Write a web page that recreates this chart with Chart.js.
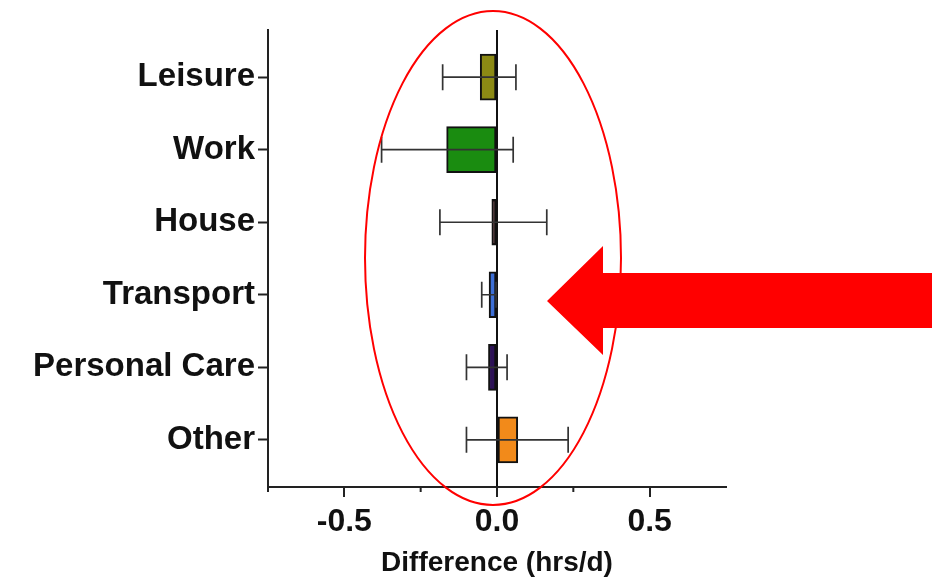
<!DOCTYPE html>
<html>
<head>
<meta charset="utf-8">
<script src="https://cdn.jsdelivr.net/npm/chart.js@4"></script>
<style>
  html, body { margin: 0; padding: 0; background: #ffffff; }
  #wrap { width: 935px; height: 582px; position: relative; }
</style>
</head>
<body>
<div id="wrap"><canvas id="c" width="935" height="582"></canvas></div>
<script>
// ---- data ----
const categories = ["Leisure", "Work", "House", "Transport", "Personal Care", "Other"];
const meanDiff   = [-0.055, -0.165, -0.017, -0.026, -0.028, 0.068];
const ciLower    = [-0.178, -0.378, -0.187, -0.050, -0.100, -0.100];
const ciUpper    = [ 0.062,  0.053,  0.163, -0.003,  0.033,  0.233];
const barColors  = ["#8c8a14", "#1a8c10", "#3c1418", "#3d6fd6", "#2d1257", "#f28a1a"];
const xTickValues = [-0.75, -0.5, -0.25, 0, 0.25, 0.5, 0.75];
const xTickLabels = ["", "-0.5", "", "0.0", "", "0.5", ""];
const xTitle = "Difference (hrs/d)";

const FONT = "'Liberation Sans', Arial, Helvetica, sans-serif";
const isMajor = v => Math.abs(v) < 1e-9 || Math.abs(Math.abs(v) - 0.5) < 1e-9;

const errorBars = {
  id: 'errorBars',
  afterDatasetsDraw(chart) {
    const ctx = chart.ctx, xs = chart.scales.x, ys = chart.scales.y;
    ctx.save();
    ctx.strokeStyle = '#333333';
    ctx.lineWidth = 1.7;
    categories.forEach((c, i) => {
      const y = ys.getPixelForValue(i);
      const x1 = xs.getPixelForValue(ciLower[i]);
      const x2 = xs.getPixelForValue(ciUpper[i]);
      ctx.beginPath();
      ctx.moveTo(x1, y); ctx.lineTo(x2, y);
      ctx.moveTo(x1, y - 13); ctx.lineTo(x1, y + 13);
      ctx.moveTo(x2, y - 13); ctx.lineTo(x2, y + 13);
      ctx.stroke();
    });
    ctx.restore();
  }
};

const minorTicks = {
  id: 'minorTicks',
  afterDraw(chart) {
    const ctx = chart.ctx, xs = chart.scales.x;
    const yb = chart.chartArea.bottom;
    ctx.save();
    ctx.strokeStyle = '#222';
    ctx.lineWidth = 2;
    xTickValues.forEach(v => {
      if (isMajor(v) || v > 0.7) return;
      const x = xs.getPixelForValue(v);
      ctx.beginPath(); ctx.moveTo(x, yb); ctx.lineTo(x, yb + 5); ctx.stroke();
    });
    ctx.restore();
  }
};

const annotations = {
  id: 'annotations',
  afterDraw(chart) {
    const ctx = chart.ctx;
    ctx.save();
    // red ellipse
    ctx.strokeStyle = '#ff0000';
    ctx.lineWidth = 2;
    ctx.beginPath();
    ctx.ellipse(493, 258, 128, 247, 0, 0, Math.PI * 2);
    ctx.stroke();
    // red arrow
    ctx.fillStyle = '#ff0000';
    ctx.beginPath();
    ctx.moveTo(547, 301);
    ctx.lineTo(603, 246);
    ctx.lineTo(603, 273);
    ctx.lineTo(932, 273);
    ctx.lineTo(932, 328);
    ctx.lineTo(603, 328);
    ctx.lineTo(603, 355);
    ctx.closePath();
    ctx.fill();
    ctx.restore();
  }
};

new Chart(document.getElementById('c'), {
  type: 'bar',
  data: {
    datasets: [{
      data: categories.map((c, i) => ({ x: meanDiff[i], y: i })),
      backgroundColor: barColors,
      borderColor: '#111111',
      borderWidth: 2,
      borderSkipped: false,
      barThickness: 46
    }]
  },
  options: {
    indexAxis: 'y',
    responsive: false,
    animation: false,
    layout: { padding: { top: 30, right: 209, bottom: 0, left: 0 } },
    plugins: { legend: { display: false }, tooltip: { enabled: false } },
    scales: {
      x: {
        type: 'linear',
        min: -0.75, max: 0.75,
        afterBuildTicks: s => { s.ticks = xTickValues.map(v => ({ value: v })); },
        afterFit: s => { s.height = 95; },
        ticks: {
          autoSkip: false,
          maxRotation: 0,
          padding: 6,
          color: '#111',
          font: { family: FONT, size: 32, weight: 'bold' },
          callback: (v, idx) => xTickLabels[idx]
        },
        grid: {
          drawOnChartArea: true,
          color: c => (c.tick && Math.abs(c.tick.value) < 1e-9) ? '#111' : 'rgba(0,0,0,0)',
          lineWidth: 2,
          tickLength: 10,
          tickColor: c => (c.tick && isMajor(c.tick.value)) ? '#222' : 'rgba(0,0,0,0)',
          tickWidth: 2
        },
        border: { display: true, color: '#222', width: 2 },
        title: {
          display: true,
          text: xTitle,
          color: '#111',
          font: { family: FONT, size: 28, weight: 'bold' },
          padding: { top: 0, bottom: 2 }
        }
      },
      y: {
        type: 'linear',
        reverse: true,
        offset: false,
        min: -0.65, max: 5.65,
        afterBuildTicks: s => { s.ticks = categories.map((c, i) => ({ value: i })); },
        afterFit: s => { s.width = 268; },
        ticks: {
          autoSkip: false,
          padding: 3,
          color: '#111',
          font: { family: FONT, size: 33, weight: 'bold' },
          callback: (v, idx) => categories[idx]
        },
        grid: {
          offset: false,
          drawOnChartArea: false,
          tickLength: 10,
          tickColor: '#222',
          tickWidth: 2
        },
        border: { display: true, color: '#222', width: 2 }
      }
    }
  },
  plugins: [errorBars, minorTicks, annotations]
});
</script>
</body>
</html>
